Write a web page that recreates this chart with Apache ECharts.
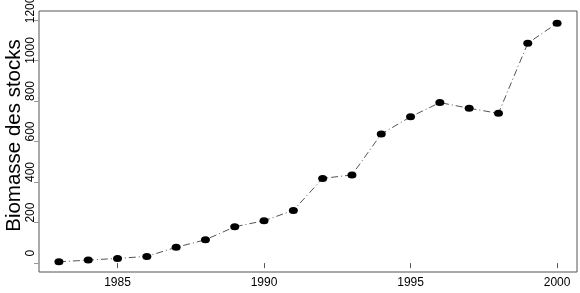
<!DOCTYPE html>
<html>
<head>
<meta charset="utf-8">
<script src="https://cdn.jsdelivr.net/npm/echarts@6/dist/echarts.min.js"></script>
<style>
html,body{margin:0;padding:0;background:#fff;}
#chart{width:580px;height:293px;}
</style>
</head>
<body>
<div id="chart"></div>
<script>
const years = [1983,1984,1985,1986,1987,1988,1989,1990,1991,1992,1993,1994,1995,1996,1997,1998,1999,2000];
const biomass = [6,15,23,33,78,115,179,209,260,418,435,637,722,792,764,739,1085,1184];
const xTicks = [1985,1990,1995,2000];
const yTicks = [0,200,400,600,800,1000,1200];

const chart = echarts.init(document.getElementById('chart'), null, {renderer:'canvas'});
chart.setOption({
  animation:false,
  backgroundColor:'#ffffff',
  grid:{left:39, right:3, top:11, bottom:21, show:true, borderColor:'#555', borderWidth:1, backgroundColor:'transparent', containLabel:false, outerBoundsMode:'none'},
  xAxis:{
    type:'value', min:1982.32, max:2000.68,
    axisLine:{show:false},
    splitLine:{show:false},
    axisTick:{show:true, customValues:xTicks, length:5, lineStyle:{color:'#555'}},
    axisLabel:{customValues:xTicks, margin:5, fontSize:12, color:'#000', fontFamily:'Liberation Sans, Arial, sans-serif', formatter:v=>String(v)}
  },
  yAxis:{
    type:'value', min:-44, max:1244,
    name:'Biomasse des stocks', nameLocation:'middle', nameRotate:90, nameGap:14, nameMoveOverlap:false,
    nameTextStyle:{fontSize:20.5, color:'#000', fontFamily:'Liberation Sans, Arial, sans-serif', padding:[0,0,0,12]},
    axisLine:{show:false},
    splitLine:{show:false},
    axisTick:{show:true, customValues:yTicks, length:5, lineStyle:{color:'#999'}},
    axisLabel:{customValues:yTicks, rotate:90, margin:2, fontSize:12, color:'#000',
      fontFamily:'Liberation Sans Narrow, Arial Narrow, Liberation Sans, sans-serif', padding:[0,0,0,20], formatter:v=>String(v)}
  },
  series:[{
    type:'line',
    data: years.map((y,i)=>[y, biomass[i]]),
    symbol:'circle', symbolSize:[9,7],
    itemStyle:{color:'#000'},
    lineStyle:{color:'#555', width:1, type:[7,3,1,3]}
  }]
});
</script>
</body>
</html>
